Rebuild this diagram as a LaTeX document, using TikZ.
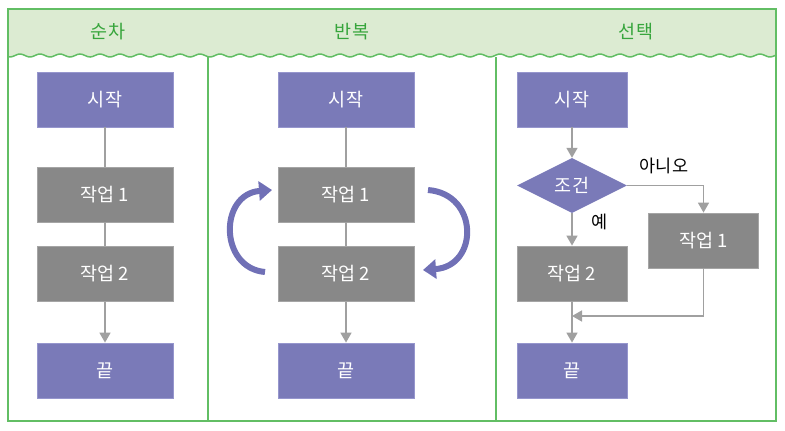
\documentclass[tikz,border=0pt]{standalone}
\usepackage{fontspec}
\setmainfont{Noto Sans CJK KR}
\usetikzlibrary{shapes.geometric,arrows.meta}
\definecolor{boxpurple}{RGB}{122,122,184}
\definecolor{boxpurpleedge}{RGB}{150,150,205}
\definecolor{boxgray}{RGB}{136,136,136}
\definecolor{boxgrayedge}{RGB}{165,165,165}
\definecolor{arrgray}{RGB}{160,160,160}
\definecolor{frgreen}{RGB}{98,190,100}
\definecolor{hdrfill}{RGB}{220,235,210}
\definecolor{ttlgreen}{RGB}{55,165,60}
\definecolor{looppurple}{RGB}{112,112,182}
\tikzset{
  pbox/.style={rectangle, fill=boxpurple, draw=boxpurpleedge, line width=0.8pt, text=white, minimum height=55pt, inner sep=0pt, font=\fontsize{18.5}{20}\selectfont},
  gbox/.style={rectangle, fill=boxgray, draw=boxgrayedge, line width=0.8pt, text=white, minimum height=55pt, inner sep=0pt, font=\fontsize{18.5}{20}\selectfont},
  pdiam/.style={diamond, aspect=2, fill=boxpurple, text=white, minimum width=110pt, minimum height=55pt, inner sep=0pt, font=\fontsize{18.5}{20}\selectfont},
  conn/.style={draw=arrgray, line width=1.5pt},
  arr/.style={conn, -{Triangle[length=10pt,width=11pt]}},
  loop/.style={draw=looppurple, line width=6pt, -{Triangle[length=13pt,width=19pt]}},
  ttl/.style={text=ttlgreen, font=\fontsize{18.5}{20}\selectfont},
  lbl/.style={text=black, font=\fontsize{17.5}{19}\selectfont},
  frame/.style={draw=frgreen, line width=1.5pt}
}
\begin{document}
\begin{tikzpicture}[x=1pt,y=-1pt]
\useasboundingbox (0,0) rectangle (785,431);
% header
\fill[hdrfill] (8,9) -- (776,9) -- plot[domain=776:8,samples=300] (\x,{55.5-1.5*cos(\x*18)}) -- cycle;
\draw[frame] plot[domain=8:776,samples=300] (\x,{55.5-1.5*cos(\x*18)});
\draw[frame] (8,9) rectangle (776,421);
\draw[frame] (208,57) -- (208,421);
\draw[frame] (496,57) -- (496,421);
\node[ttl] (t1) at (108,32) {순차};
\node[ttl] (t2) at (352,32) {반복};
\node[ttl] (t3) at (636,32) {선택};
% column 1
\node[pbox, minimum width=136pt] (s1) at (105,99.5) {시작};
\node[gbox, minimum width=136pt] (a1) at (105,194.5) {작업 1};
\node[gbox, minimum width=136pt] (b1) at (105,274) {작업 2};
\node[pbox, minimum width=136pt] (e1) at (105,370.5) {끝};
\draw[conn] (s1) -- (a1);
\draw[conn] (a1) -- (b1);
\draw[arr] (b1) -- (e1);
% column 2
\node[pbox, minimum width=136pt] (s2) at (346,99.5) {시작};
\node[gbox, minimum width=136pt] (a2) at (346,194.5) {작업 1};
\node[gbox, minimum width=136pt] (b2) at (346,274) {작업 2};
\node[pbox, minimum width=136pt] (e2) at (346,370.5) {끝};
\draw[conn] (s2) -- (a2);
\draw[conn] (a2) -- (b2);
\draw[arr] (b2) -- (e2);
\coordinate (l1) at (265,272);
\coordinate (l2) at (272,190);
\coordinate (r1) at (428,190);
\coordinate (r2) at (423,270);
\draw[loop] (l1) .. controls (219,268) and (219,194) .. (l2);
\draw[loop] (r1) .. controls (479,194) and (479,266) .. (r2);
% column 3
\node[pbox, minimum width=110pt] (s3) at (572,99.5) {시작};
\node[pdiam] (d3) at (572,185.5) {조건};
\node[gbox, minimum width=110pt] (w2) at (572,273.5) {작업 2};
\node[gbox, minimum width=110pt] (w1) at (703.5,240.5) {작업 1};
\node[pbox, minimum width=110pt] (e3) at (572,370.5) {끝};
\coordinate (m3) at (572,316);
\draw[arr] (s3) -- (d3.north);
\draw[arr] (d3.east) -| (w1.north);
\draw[arr] (d3.south) -- (w2.north);
\draw[arr] (w2) -- (e3);
\draw[arr] (w1.south) |- (m3);
\node[lbl] (no) at (664,166) {아니오};
\node[lbl] (yes) at (600,222) {예};
\end{tikzpicture}
\end{document}
